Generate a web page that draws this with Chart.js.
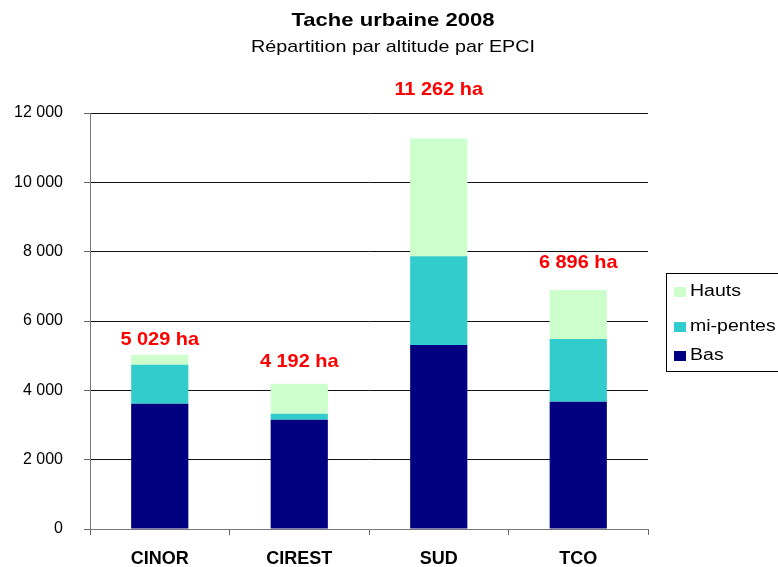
<!DOCTYPE html>
<html>
<head>
<meta charset="utf-8">
<script src="https://cdn.jsdelivr.net/npm/chart.js@4"></script>
<style>
  body { margin: 0; background: #fff; overflow: hidden; }
</style>
</head>
<body>
<canvas id="barChart" width="778" height="567"></canvas>
<script>

let categories = ['CINOR', 'CIREST', 'SUD', 'TCO'];

// surfaces en ha
let bas = [3610, 3150, 5310, 3670];
let miPentes = [1125, 175, 2560, 1810];
let hauts = [294, 867, 3392, 1416];

let yMax = 12000;
let yStep = 2000;

let fontFamily = '"Liberation Sans", Arial, sans-serif';

function formatNumber(n) {
    return String(Math.round(n)).replace(/\B(?=(\d{3})+(?!\d))/g, ' ');
}

// texte un peu etire en largeur, comme l'export d'origine
function wideText(c, text, x, y, sx) {
    c.save();
    c.translate(x, y);
    c.scale(sx, 1);
    c.fillText(text, 0, 0);
    c.restore();
}

// titre + sous-titre
let titlePlugin = {
    id: 'titles',
    afterDraw(chart) {
        let c = chart.ctx;
        c.save();
        c.fillStyle = '#000';
        c.textAlign = 'center';
        c.textBaseline = 'middle';
        c.font = 'bold 19px ' + fontFamily;
        wideText(c, 'Tache urbaine 2008', 393, 21, 1.16);
        c.font = '17px ' + fontFamily;
        wideText(c, 'Répartition par altitude par EPCI', 393, 47, 1.16);
        c.restore();
    }
};

// total en rouge au-dessus de chaque barre
let totalsPlugin = {
    id: 'totals',
    afterDatasetsDraw(chart, args, opts) {
        let c = chart.ctx;
        let meta = chart.getDatasetMeta(chart.data.datasets.length - 1);
        c.save();
        c.fillStyle = '#ff0000';
        c.font = 'bold 19px ' + fontFamily;
        c.textAlign = 'center';
        c.textBaseline = 'middle';
        for (let i = 0; i < categories.length; i++) {
            let total = 0;
            chart.data.datasets.forEach(ds => total += ds.data[i]);
            let y = chart.scales.y.getPixelForValue(total) - opts.offsets[i];
            wideText(c, formatNumber(total) + ' ha', meta.data[i].x, y, 1.05);
        }
        c.restore();
    }
};

// legende encadree, coupee par le bord droit
let boxLegendPlugin = {
    id: 'boxLegend',
    afterDraw(chart, args, opts) {
        let c = chart.ctx;
        let sets = chart.data.datasets.slice().reverse();
        c.save();
        c.fillStyle = '#fff';
        c.fillRect(opts.x, opts.y, opts.w, opts.h);
        c.strokeStyle = '#000';
        c.lineWidth = 1;
        c.strokeRect(opts.x + 0.5, opts.y + 0.5, opts.w, opts.h);
        c.font = '16px ' + fontFamily;
        c.textBaseline = 'middle';
        c.textAlign = 'left';
        sets.forEach((ds, i) => {
            let cy = opts.rows[i];
            c.fillStyle = ds.backgroundColor;
            c.fillRect(opts.x + 8, cy - 5, 12, 10);
            c.fillStyle = '#000';
            wideText(c, ds.label, opts.x + 24, cy, 1.22);
        });
        c.restore();
    }
};

let ctx = document.getElementById('barChart').getContext('2d');
let chart = new Chart(ctx, {
    type: 'bar',
    data: {
        labels: categories,
        datasets: [{
            label: 'Bas',
            data: bas,
            backgroundColor: '#000080'
        },
        {
            label: 'mi-pentes',
            data: miPentes,
            backgroundColor: '#33cccc'
        },
        {
            label: 'Hauts',
            data: hauts,
            backgroundColor: '#ccffcc'
        }]
    },
    options: {
        responsive: false,
        animation: false,
        devicePixelRatio: 1,
        layout: {
            padding: { top: 113, right: 130, left: 0, bottom: 0 }
        },
        datasets: {
            bar: {
                barPercentage: 0.41,
                categoryPercentage: 1.0,
                borderWidth: 0
            }
        },
        scales: {
            x: {
                stacked: true,
                afterFit: scale => { scale.height = 38; },
                grid: {
                    drawOnChartArea: false,
                    tickLength: 6,
                    tickColor: '#666'
                },
                border: { color: '#777', width: 1 },
                ticks: {
                    color: '#000',
                    padding: 13,
                    font: { family: fontFamily, size: 18, weight: 'bold' }
                }
            },
            y: {
                stacked: true,
                min: 0,
                max: yMax,
                afterFit: scale => { scale.width = 90; },
                grid: {
                    color: ctx => ctx.tick && ctx.tick.value === 0 ? 'rgba(0,0,0,0)' : '#111',
                    tickLength: 6,
                    tickColor: '#666'
                },
                border: { color: '#777', width: 1 },
                ticks: {
                    stepSize: yStep,
                    color: '#000',
                    padding: 21,
                    font: { family: fontFamily, size: 16 },
                    callback: v => formatNumber(v)
                }
            }
        },
        plugins: {
            legend: { display: false },
            title: { display: false },
            tooltip: { enabled: false },
            totals: { offsets: [15, 22, 49, 27] },
            boxLegend: { x: 666, y: 273, w: 140, h: 98, rows: [292, 327, 356] }
        }
    },
    plugins: [titlePlugin, totalsPlugin, boxLegendPlugin]
});

</script>
</body>
</html>
